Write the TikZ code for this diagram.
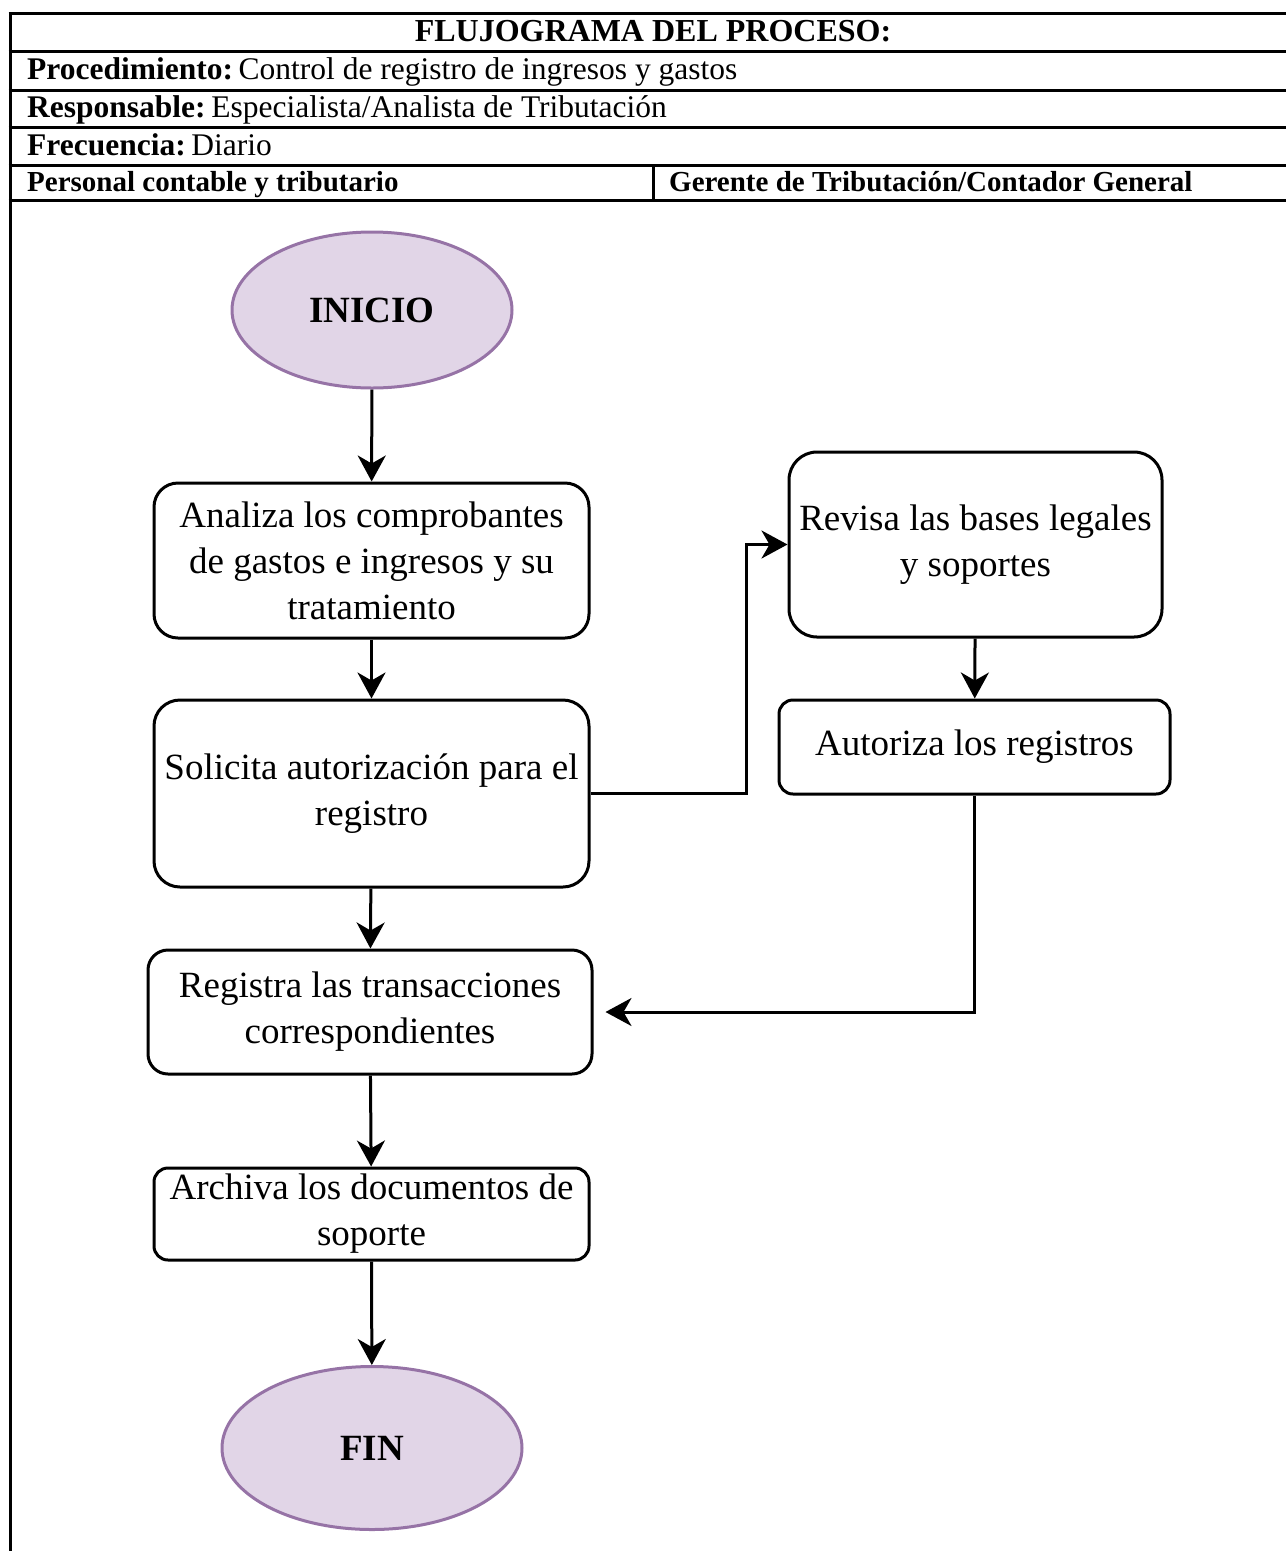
\documentclass[tikz,border=0pt]{standalone}
\usepackage{fontspec}
\setmainfont{Liberation Serif}
\usetikzlibrary{shapes.geometric,arrows.meta}
\definecolor{termfill}{HTML}{E1D5E7}
\definecolor{termdraw}{HTML}{9673A6}
\begin{document}
\begin{tikzpicture}[x=1pt,y=-1pt,
  rule/.style={line width=3pt},
  headtxt/.style={inner sep=0pt, anchor=base west, font=\fontsize{31.5}{36}\selectfont},
  lanetxt/.style={inner sep=0pt, anchor=base west, font=\fontsize{29}{34}\selectfont\bfseries},
  proc/.style={draw, line width=3pt, rectangle, inner sep=0pt, align=center,
    font=\fontsize{37}{46}\selectfont},
  term/.style={ellipse, draw=termdraw, fill=termfill, line width=3pt, inner sep=0pt,
    font=\fontsize{37}{46}\selectfont\bfseries},
  flow/.style={line width=3pt, -{Stealth[length=26pt,width=28pt,inset=8pt]}}]

\useasboundingbox (0,0) rectangle (1286,1551);

% header table
\draw[rule] (8.5,13) -- (1286,13);
\draw[rule] (8.5,51.5) -- (1286,51.5);
\draw[rule] (8.5,90) -- (1286,90);
\draw[rule] (8.5,127.5) -- (1286,127.5);
\draw[rule] (8.5,165.5) -- (1286,165.5);
\draw[rule] (8.5,200.5) -- (1286,200.5);
\draw[rule] (10,13) -- (10,1551);
\draw[rule] (653,165.5) -- (653,200.5);

\node[headtxt, anchor=base, font=\fontsize{32}{36}\selectfont\bfseries] (title) at (653,41) {FLUJOGRAMA DEL PROCESO:};
\node[headtxt] (proced) at (27,79) {\textbf{Procedimiento:}\hspace{0.18em}Control de registro de ingresos y gastos};
\node[headtxt] (resp) at (27,117) {\textbf{Responsable:}\hspace{0.18em}Especialista/Analista de Tributación};
\node[headtxt] (frec) at (27,155) {\textbf{Frecuencia:}\hspace{0.18em}Diario};
\node[lanetxt] (lane1) at (27,191) {Personal contable y tributario};
\node[lanetxt] (lane2) at (669,191) {Gerente de Tributación/Contador General};

% flowchart nodes
\node[term, minimum width=280pt, minimum height=156pt] (ini) at (372,310) {INICIO};
\node[proc, rounded corners=24pt, minimum width=435pt, minimum height=155pt] (b1) at (371.5,560.5)
  {Analiza los comprobantes\\de gastos e ingresos y su\\tratamiento};
\node[proc, rounded corners=26pt, minimum width=435pt, minimum height=187pt] (b2) at (371.5,793.5)
  {Solicita autorización para el\\registro};
\node[proc, rounded corners=20pt, minimum width=444pt, minimum height=124pt] (b3) at (370,1012)
  {Registra las transacciones\\correspondientes};
\node[proc, rounded corners=14pt, minimum width=435pt, minimum height=92pt] (b4) at (371.5,1214)
  {Archiva los documentos de\\soporte};
\node[term, minimum width=300pt, minimum height=163pt] (fin) at (372,1448) {FIN};
\node[proc, rounded corners=28pt, minimum width=373pt, minimum height=185pt] (b5) at (975.5,544.5)
  {Revisa las bases legales\\y soportes};
\node[proc, rounded corners=14pt, minimum width=391pt, minimum height=94pt] (b6) at (974.5,747)
  {Autoriza los registros};

% connectors
\draw[flow] (ini) -- (b1);
\draw[flow] (b1) -- (b2);
\draw[flow] (b2) -- (b3);
\draw[flow] (b3) -- (b4);
\draw[flow] (b4) -- (fin);
\draw[flow] (b2.east) -- ++(156,0) |- (b5.west);
\draw[flow] (b5) -- (b6);
\draw[flow, shorten >=12pt] (b6.south) |- (b3.east);
\end{tikzpicture}
\end{document}
